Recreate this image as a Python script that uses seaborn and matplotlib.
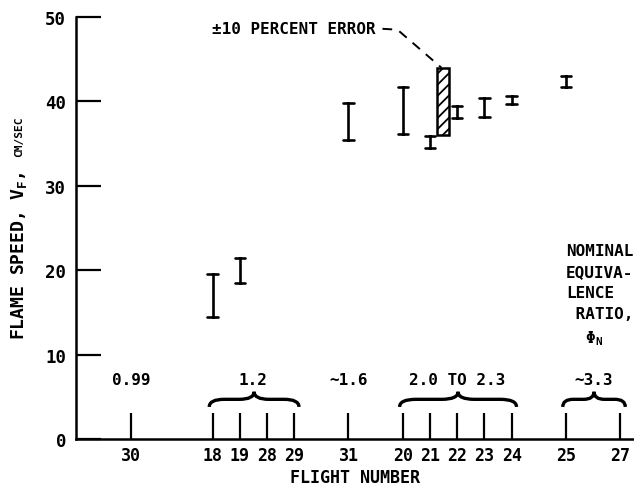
import numpy as np
import pandas as pd
import matplotlib
matplotlib.use("Agg")
import matplotlib.pyplot as plt
from matplotlib.path import Path
from matplotlib.patches import PathPatch, Rectangle
import seaborn as sns

# ---------------- data ----------------
flight_order = ["30", "18", "19", "28", "29", "31", "20", "21", "22", "23", "24", "25", "27"]
flights_measured = ["18", "19", "31", "20", "21", "22", "23", "24", "25"]
speed_low = [14.5, 18.5, 35.4, 36.1, 34.5, 38.0, 38.2, 39.7, 41.7]
speed_high = [19.6, 21.5, 39.8, 41.7, 35.9, 39.5, 40.4, 40.6, 43.0]

group_labels = ["0.99", "1.2", "~1.6", "2.0 TO 2.3", "~3.3"]
group_members = [["30"], ["18", "19", "28", "29"], ["31"],
                 ["20", "21", "22", "23", "24"], ["25", "27"]]

error_nominal = 40.0
error_percent = 10.0
yticks = [0, 10, 20, 30, 40, 50]

# ---------------- layout ----------------
slot_of = {"30": 0, "18": 3, "19": 4, "28": 5, "29": 6, "31": 8,
           "20": 10, "21": 11, "22": 12, "23": 13, "24": 14, "25": 16, "27": 18}

sns.set_style("ticks")
plt.rcParams["font.family"] = ["DejaVu Sans Mono", "DejaVu Sans"]
plt.rcParams["font.weight"] = "bold"
plt.rcParams["axes.labelweight"] = "bold"
plt.rcParams["mathtext.fontset"] = "dejavusans"
plt.rcParams["mathtext.default"] = "regular"
for k in ["text.color", "axes.labelcolor", "xtick.color", "ytick.color", "axes.edgecolor"]:
    plt.rcParams[k] = "black"
plt.rcParams["hatch.linewidth"] = 1.3

W, H = 634, 489
fig = plt.figure(figsize=(W / 100, H / 100), dpi=100)
ax = fig.add_axes([76 / W, 49 / H, (W - 76) / W, 422 / H])

rows = []
for f, lo, hi in zip(flights_measured, speed_low, speed_high):
    rows.append({"slot": slot_of[f], "speed": lo})
    rows.append({"slot": slot_of[f], "speed": hi})
df = pd.DataFrame(rows)

sns.pointplot(data=df, x="slot", y="speed", native_scale=True,
              errorbar=("pi", 100), capsize=0.38, color="black",
              linestyle="none", marker="", err_kws={"linewidth": 1.9}, ax=ax)

# +/-10 percent error box
lo_e = error_nominal * (1 - error_percent / 100)
hi_e = error_nominal * (1 + error_percent / 100)
bx0, bx1 = 11.25, 11.68
ax.add_patch(Rectangle((bx0, lo_e), bx1 - bx0, hi_e - lo_e, facecolor="white",
                       edgecolor="black", hatch="///", linewidth=1.8))
ax.text(9.0, 48.6, "\u00b110 PERCENT ERROR", ha="right", va="center",
        fontsize=11.5, fontweight="bold")
ax.plot([9.25, 9.8, (bx0 + bx1) / 2 - 0.05], [48.6, 48.5, hi_e], color="black",
        linewidth=1.4, dashes=(5, 4))

# group labels and braces
def brace(x0, x1, y_end, y_flat, y_tip):
    xm = (x0 + x1) / 2
    r = min(0.6, (x1 - x0) / 6)
    verts = [(x0, y_end), (x0, y_flat), (x0 + r, y_flat), (x0 + 2 * r, y_flat),
             (xm - r, y_flat), (xm, y_flat), (xm, y_tip),
             (xm, y_flat), (xm + r, y_flat),
             (x1 - 2 * r, y_flat), (x1 - r, y_flat), (x1, y_flat), (x1, y_end)]
    codes = [Path.MOVETO, Path.CURVE3, Path.CURVE3, Path.LINETO,
             Path.LINETO, Path.CURVE3, Path.CURVE3,
             Path.CURVE3, Path.CURVE3,
             Path.LINETO, Path.LINETO, Path.CURVE3, Path.CURVE3]
    ax.add_patch(PathPatch(Path(verts, codes), facecolor="none",
                           edgecolor="black", linewidth=2.4))

for lab, mem in zip(group_labels, group_members):
    xs = [slot_of[m] for m in mem]
    xc = (min(xs) + max(xs)) / 2
    ax.text(xc, 7.0, lab, ha="center", va="center", fontsize=11.5, fontweight="bold")
    if len(mem) > 1:
        brace(min(xs) - 0.12, max(xs) + 0.18, 3.8, 4.7, 5.6)

ax.text(16.0, 23.2, "NOMINAL\nEQUIVA-\nLENCE\n RATIO,\n  $\\Phi_\\mathregular{N}$",
        ha="left", va="top", fontsize=11.5, fontweight="bold",
        linespacing=1.5, multialignment="left")

# axes styling
ax.set_xlim(-2.02, 18.5)
ax.set_ylim(0, 50)
ax.set_xticks([slot_of[f] for f in flight_order])
ax.set_xticklabels(flight_order, fontsize=12, fontweight="bold")
ax.set_yticks(yticks)
ax.set_yticklabels([str(v) for v in yticks], fontsize=12.5, fontweight="bold")
ax.tick_params(axis="x", direction="in", length=19, width=1.6, pad=5)
ax.tick_params(axis="y", direction="in", length=18, width=1.6, pad=7)
for s in ["top", "right"]:
    ax.spines[s].set_visible(False)
for s in ["left", "bottom"]:
    ax.spines[s].set_linewidth(1.8)
ax.set_xlabel("FLIGHT NUMBER", fontsize=12, fontweight="bold", labelpad=3)
ax.set_ylabel("")
ax.patch.set_alpha(0)

fig.text(19 / W, 1 - 340 / H, "FLAME SPEED, V$_\\mathregular{F}$,", rotation=90,
         ha="center", va="bottom", fontsize=13, fontweight="bold")
fig.text(19 / W, 1 - 157 / H, "CM/SEC", rotation=90, ha="center", va="bottom",
         fontsize=8, fontweight="bold")

fig.savefig("out.png", dpi=100)
